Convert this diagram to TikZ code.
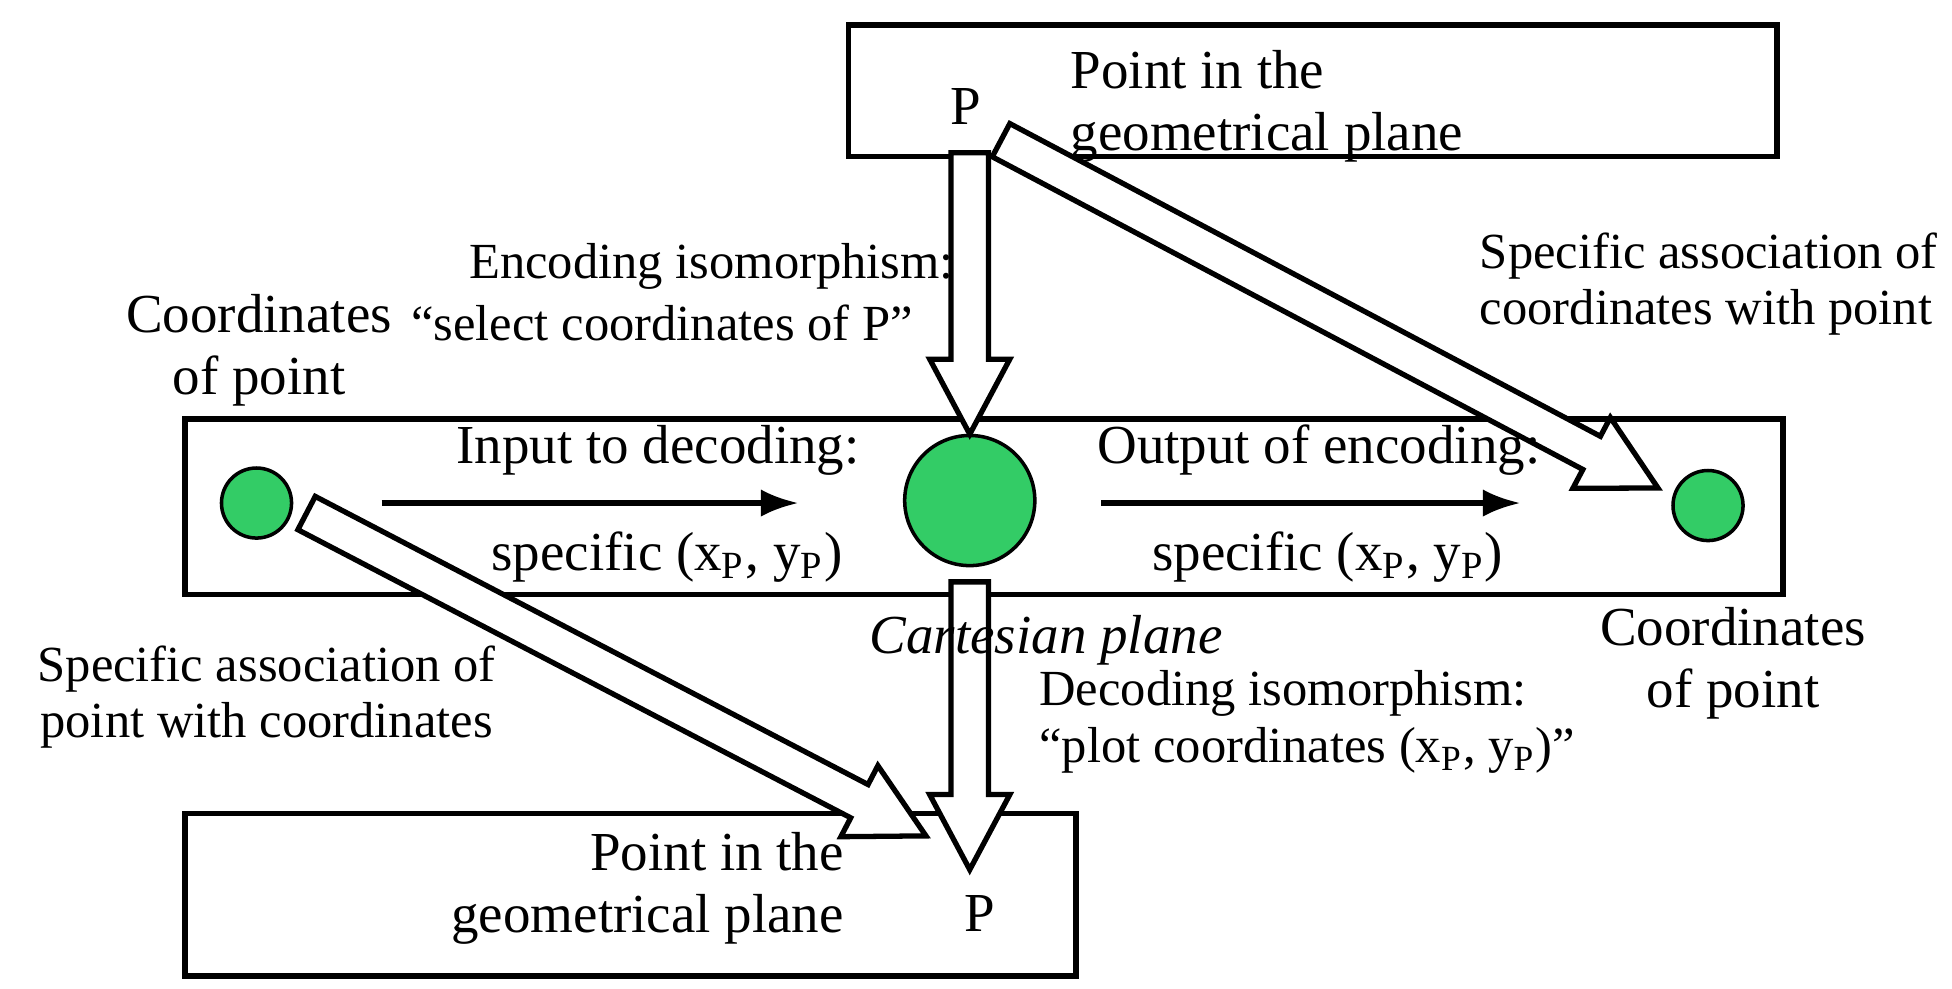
\documentclass[tikz,border=0pt]{standalone}
\usepackage{fontspec}
\setmainfont{Liberation Serif}
\usetikzlibrary{calc,arrows.meta}
\newcommand{\fatarrow}[2]{%
  \coordinate (fa-h) at ($(#2)!0.6cm!(#1)$);
  \draw[line width=1.2pt, fill=white, line join=miter]
    ($(#1)!0.15cm!90:(#2)$) -- ($(fa-h)!0.15cm!90:(#2)$) -- ($(fa-h)!0.32cm!90:(#2)$) -- (#2)
    -- ($(fa-h)!0.32cm!-90:(#2)$) -- ($(fa-h)!0.15cm!-90:(#2)$) -- ($(#1)!0.15cm!-90:(#2)$) -- cycle;}
\definecolor{dotgreen}{RGB}{51,204,102}
\tikzset{
  box/.style={draw, line width=1.3pt},
  dot/.style={circle, draw, line width=0.8pt, fill=dotgreen, inner sep=0pt},
  big/.style={font=\fontsize{12.5}{14.2}\selectfont, inner sep=0pt},
  small/.style={font=\fontsize{11.5}{12.8}\selectfont, inner sep=0pt},
  thin/.style={line width=1.2pt, -{Latex[length=0.3cm,width=0.22cm]}}
}
\begin{document}
\begin{tikzpicture}
\useasboundingbox (0,0) rectangle (15.6,-7.9);
% boxes
\draw[box] (6.78,-0.2) rectangle (14.2,-1.25);
\draw[box] (1.48,-3.35) rectangle (14.25,-4.75);
\draw[box] (1.48,-6.5) rectangle (8.6,-7.8);
% dots
\node[dot, minimum size=0.56cm] (d1) at (2.05,-4.02) {};
\node[dot, minimum size=1.04cm] (d2) at (7.75,-4.0) {};
\node[dot, minimum size=0.56cm] (d3) at (13.65,-4.04) {};
% thin arrows
\coordinate (t1a) at (3.05,-4.02); \coordinate (t1b) at (6.38,-4.02);
\coordinate (t2a) at (8.8,-4.02); \coordinate (t2b) at (12.15,-4.02);
\draw[thin] (t1a) -- (t1b);
\draw[thin] (t2a) -- (t2b);
% fat arrows
\coordinate (v1a) at (7.75,-1.22); \coordinate (v1b) at (7.75,-3.47);
\coordinate (v2a) at (7.75,-4.65); \coordinate (v2b) at (7.75,-6.95);
\coordinate (g1a) at (8.0,-1.12); \coordinate (g1b) at (13.25,-3.9);
\coordinate (g2a) at (2.45,-4.1); \coordinate (g2b) at (7.4,-6.68);
\fatarrow{v1a}{v1b}
\fatarrow{v2a}{v2b}
\fatarrow{g1a}{g1b}
\fatarrow{g2a}{g2b}
% texts
\node[big] (p1) at (7.72,-0.85) {P};
\node[big, anchor=west, align=left] (t1) at (8.55,-0.85) {Point in the\\geometrical plane};
\node[small, anchor=east] (enc) at (7.63,-2.13) {Encoding isomorphism:};
\node[small, anchor=west] (enc2) at (3.28,-2.58) {“select coordinates of P”};
\node[big, align=center] (c1) at (2.07,-2.8) {Coordinates\\of point};
\node[small, anchor=west, align=left] (sa1) at (11.82,-2.27) {Specific association of\\coordinates with point};
\node[big] (in) at (5.26,-3.6) {Input to decoding:};
\node[big] (s1) at (5.33,-4.45) {specific (x\textsubscript{P}, y\textsubscript{P})};
\node[big] (out) at (10.54,-3.6) {Output of encoding:};
\node[big] (s2) at (10.61,-4.45) {specific (x\textsubscript{P}, y\textsubscript{P})};
\node[big, font=\fontsize{12.5}{14.2}\selectfont\itshape] (cp) at (8.36,-5.12) {Cartesian plane};
\node[small, align=left, anchor=west] (dec) at (8.3,-5.77) {Decoding isomorphism:\\“plot coordinates (x\textsubscript{P}, y\textsubscript{P})”};
\node[big, align=center] (c2) at (13.85,-5.3) {Coordinates\\of point};
\node[small, align=center] (sa2) at (2.13,-5.57) {Specific association of\\point with coordinates};
\node[big, align=right, anchor=east] (t2) at (6.75,-7.1) {Point in the\\geometrical plane};
\node[big] (p2) at (7.83,-7.3) {P};
\end{tikzpicture}
\end{document}
